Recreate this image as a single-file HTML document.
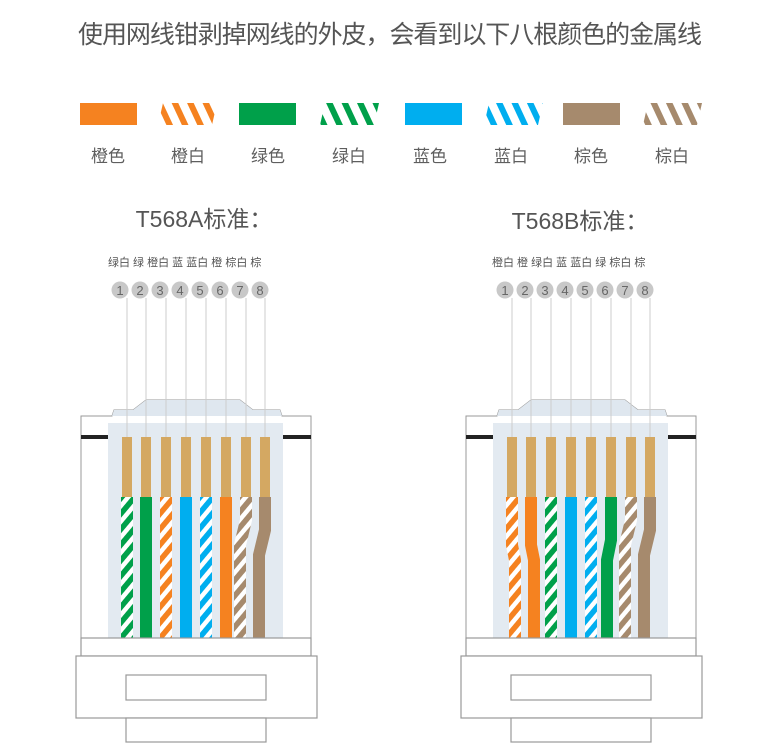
<!DOCTYPE html>
<html><head><meta charset="utf-8"><style>
html,body{margin:0;padding:0;background:#fff;}
body{width:762px;height:749px;overflow:hidden;}
text{font-family:"Liberation Sans","Noto Sans CJK SC",sans-serif;}
</style></head><body>
<svg width="762" height="749" viewBox="0 0 762 749" xmlns="http://www.w3.org/2000/svg">
<defs>
<pattern id="so" patternUnits="userSpaceOnUse" width="10" height="10" patternTransform="rotate(40)"><rect width="10" height="10" fill="#fff"/><rect width="5.5" height="10" fill="#f58220"/></pattern>
<pattern id="sg" patternUnits="userSpaceOnUse" width="10" height="10" patternTransform="rotate(40)"><rect width="10" height="10" fill="#fff"/><rect width="5.5" height="10" fill="#00a04a"/></pattern>
<pattern id="sb" patternUnits="userSpaceOnUse" width="10" height="10" patternTransform="rotate(40)"><rect width="10" height="10" fill="#fff"/><rect width="5.5" height="10" fill="#00aeef"/></pattern>
<pattern id="sn" patternUnits="userSpaceOnUse" width="10" height="10" patternTransform="rotate(40)"><rect width="10" height="10" fill="#fff"/><rect width="5.5" height="10" fill="#a68a6d"/></pattern>
<pattern id="lo" patternUnits="userSpaceOnUse" width="14" height="14" patternTransform="rotate(-25)"><rect width="14" height="14" fill="#fff"/><rect width="6" height="14" fill="#f58220"/></pattern>
<pattern id="lg" patternUnits="userSpaceOnUse" width="14" height="14" patternTransform="rotate(-25)"><rect width="14" height="14" fill="#fff"/><rect width="6" height="14" fill="#00a04a"/></pattern>
<pattern id="lb" patternUnits="userSpaceOnUse" width="14" height="14" patternTransform="rotate(-25)"><rect width="14" height="14" fill="#fff"/><rect width="6" height="14" fill="#00aeef"/></pattern>
<pattern id="ln" patternUnits="userSpaceOnUse" width="14" height="14" patternTransform="rotate(-25)"><rect width="14" height="14" fill="#fff"/><rect width="6" height="14" fill="#a68a6d"/></pattern>
<g id="body">
  <path d="M81,640 L81,416 L112,416 L114,410 L133,410 L146,400 L240,400 L253,410 L280,410 L282,416 L311,416 L311,640" fill="#fff" stroke="#999" stroke-width="1"/>
  <path d="M114,410 L133,410 L146,400 L240,400 L253,410 L280,410 L282,416 L112,416Z" fill="#dfe7ef"/>
  <rect x="108" y="423" width="175" height="220" fill="#e3eaf1"/>
  <rect x="81" y="435" width="27" height="4" fill="#222"/>
  <rect x="283" y="435" width="28" height="4" fill="#222"/>
  <g fill="#d4a862">
    <rect x="122" y="437" width="10" height="62"/><rect x="141" y="437" width="10" height="62"/>
    <rect x="161" y="437" width="10" height="62"/><rect x="181" y="437" width="10" height="62"/>
    <rect x="201" y="437" width="10" height="62"/><rect x="221" y="437" width="10" height="62"/>
    <rect x="241" y="437" width="10" height="62"/><rect x="260" y="437" width="10" height="62"/>
  </g>
  <g stroke="#ccc" stroke-width="1">
    <line x1="127" y1="298" x2="127" y2="437"/><line x1="146" y1="298" x2="146" y2="437"/>
    <line x1="166" y1="298" x2="166" y2="437"/><line x1="186" y1="298" x2="186" y2="437"/>
    <line x1="206" y1="298" x2="206" y2="437"/><line x1="226" y1="298" x2="226" y2="437"/>
    <line x1="246" y1="298" x2="246" y2="437"/><line x1="265" y1="298" x2="265" y2="437"/>
  </g>
  <g fill="#c8c8c8">
    <circle cx="120" cy="290" r="8.5"/><circle cx="140" cy="290" r="8.5"/><circle cx="160" cy="290" r="8.5"/><circle cx="180" cy="290" r="8.5"/>
    <circle cx="200" cy="290" r="8.5"/><circle cx="220" cy="290" r="8.5"/><circle cx="240" cy="290" r="8.5"/><circle cx="260" cy="290" r="8.5"/>
  </g>
  <g font-size="13" fill="#666" text-anchor="middle">
    <text x="120" y="295">1</text><text x="140" y="295">2</text><text x="160" y="295">3</text><text x="180" y="295">4</text>
    <text x="200" y="295">5</text><text x="220" y="295">6</text><text x="240" y="295">7</text><text x="260" y="295">8</text>
  </g>
</g>
<g id="bottom" fill="#fff" stroke="#999" stroke-width="1.2">
  <rect x="81" y="638" width="230" height="18"/>
  <rect x="76" y="656" width="241" height="62"/>
  <rect x="126" y="675" width="140" height="25"/>
  <rect x="126" y="718" width="140" height="24"/>
</g>
</defs>

<text x="78" y="43" font-size="25" fill="#555" textLength="624">使用网线钳剥掉网线的外皮，会看到以下八根颜色的金属线</text>

<rect x="80" y="103" width="57" height="22" fill="#f58220"/>
<path d="M163,103 H217 L212,125 H158Z" fill="url(#lo)"/>
<rect x="239" y="103" width="57" height="22" fill="#00a04a"/>
<path d="M325,103 H379 L374,125 H320Z" fill="url(#lg)"/>
<rect x="405" y="103" width="57" height="22" fill="#00aeef"/>
<path d="M489,103 H543 L538,125 H484Z" fill="url(#lb)"/>
<rect x="563" y="103" width="57" height="22" fill="#a68a6d"/>
<path d="M648,103 H702 L697,125 H643Z" fill="url(#ln)"/>
<g font-size="17" fill="#5e5e5e" text-anchor="middle">
<text x="108" y="162">橙色</text><text x="188" y="162">橙白</text><text x="268" y="162">绿色</text><text x="349" y="162">绿白</text>
<text x="430" y="162">蓝色</text><text x="511" y="162">蓝白</text><text x="591" y="162">棕色</text><text x="672" y="162">棕白</text>
</g>
<g font-size="23" fill="#555" text-anchor="middle">
<text x="204" y="227">T568A标准：</text><text x="580" y="229">T568B标准：</text>
</g>
<g font-size="11" fill="#555">
<text x="108" y="266">绿白 绿 橙白 蓝 蓝白 橙 棕白 棕</text>
<text x="492" y="266">橙白 橙 绿白 蓝 蓝白 绿 棕白 棕</text>
</g>

<use href="#body"/>
<g fill="none" stroke-width="12">
  <path d="M127,497 V640" stroke="url(#sg)"/>
  <path d="M146,497 V640" stroke="#00a04a"/>
  <path d="M166,497 V640" stroke="url(#so)"/>
  <path d="M186,497 V640" stroke="#00aeef"/>
  <path d="M206,497 V640" stroke="url(#sb)"/>
  <path d="M226,497 V640" stroke="#f58220"/>
  <path d="M246,497 V520 L240,545 V640" stroke="url(#sn)"/>
  <path d="M265,497 V530 L259,555 V640" stroke="#a68a6d"/>
</g>
<use href="#bottom"/>

<g transform="translate(385,0)">
<use href="#body"/>
<g fill="none" stroke-width="12">
  <path d="M127,497 V545 L130,560 V640" stroke="url(#so)"/>
  <path d="M146,497 V545 L149,560 V640" stroke="#f58220"/>
  <path d="M166,497 V640" stroke="url(#sg)"/>
  <path d="M186,497 V640" stroke="#00aeef"/>
  <path d="M206,497 V640" stroke="url(#sb)"/>
  <path d="M226,497 V540 L222,560 V640" stroke="#00a04a"/>
  <path d="M246,497 V520 L240,545 V640" stroke="url(#sn)"/>
  <path d="M265,497 V530 L259,555 V640" stroke="#a68a6d"/>
</g>
<use href="#bottom"/>
</g>
</svg>
</body></html>
